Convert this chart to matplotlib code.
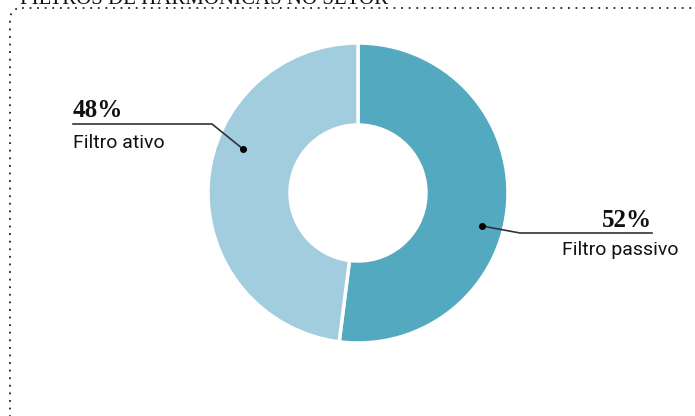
import matplotlib.pyplot as plt
from matplotlib.patches import FancyBboxPatch

# Dados
categorias = ['Filtro passivo', 'Filtro ativo']
valores = [52, 48]
rotulos = ['52%', '48%']
cores = ['#53a9bf', '#a2cddf']

fig = plt.figure(figsize=(6.95, 4.16), dpi=100)
ax = fig.add_axes([0, 0, 1, 1])

# Título (cortado no topo, como no original)
ax.text(20, 4, 'FILTROS DE HARMÔNICAS NO SETOR', fontsize=15, family='Liberation Serif',
        ha='left', va='baseline', color='#111111')

# Moldura pontilhada com canto arredondado
caixa = FancyBboxPatch((10, 8), 720, 440, boxstyle='round,pad=0,rounding_size=12',
                       fill=False, linestyle=(0, (1, 3.2)), linewidth=1.3, edgecolor='#222222')
ax.add_patch(caixa)

# Rosca (eixo y invertido: sentido horário visual = anti-horário nos dados)
ax.pie(valores, colors=cores, startangle=-90, counterclock=True,
       center=(358, 193), radius=150,
       wedgeprops=dict(width=82, edgecolor='white', linewidth=2.5))
ax.set_xlim(0, 695)
ax.set_ylim(416, 0)
ax.set_aspect('equal')
ax.axis('off')

# Rótulo: Filtro ativo
ax.plot([73, 212, 243], [124, 124, 149], color='#333333', linewidth=1.2)
ax.plot(243, 149, 'o', color='black', markersize=4)
ax.text(73, 117, rotulos[1], fontsize=18, fontweight='bold', family='Liberation Serif',
        ha='left', va='baseline', color='#111111')
ax.text(73, 148, categorias[1], fontsize=14, family='Roboto', ha='left', va='baseline',
        color='#111111')

# Rótulo: Filtro passivo
ax.plot([482, 520, 652], [226, 233, 233], color='#333333', linewidth=1.2)
ax.plot(482, 226, 'o', color='black', markersize=4)
ax.text(652, 227, rotulos[0], fontsize=18, fontweight='bold', family='Liberation Serif',
        ha='right', va='baseline', color='#111111')
ax.text(562, 255, categorias[0], fontsize=14, family='Roboto', ha='left', va='baseline',
        color='#111111')

fig.savefig('out.png', dpi=100)
